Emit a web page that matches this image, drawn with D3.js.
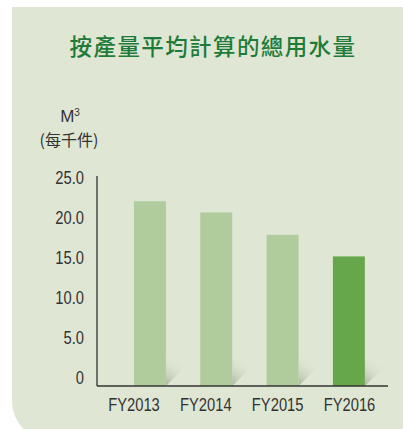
<!DOCTYPE html>
<html>
<head>
<meta charset="utf-8">
<script src="https://cdn.jsdelivr.net/npm/d3@7"></script>
<style>
    html, body { margin: 0; padding: 0; background: #ffffff; }
    svg { display: block; }
</style>
</head>
<body>
<div id="chart"></div>
<script>
(function () {
    "use strict";

    const categories = ["FY2013", "FY2014", "FY2015", "FY2016"];
    const values = [22.1, 20.7, 17.9, 15.2];
    const highlight = ["FY2016"];
    const yTicks = [0, 5, 10, 15, 20, 25];
    const title = "按產量平均計算的總用水量";
    const unitLines = ["M³", "(每千件)"];

    const d3 = window.d3;
    const width = 403;
    const height = 429;

    const sans = "'Liberation Sans', Arial, sans-serif";
    const cjk = "'Noto Sans CJK TC', 'Noto Sans CJK SC', sans-serif";
    const squeeze = 0.82;

    const svg = d3.select("#chart")
        .append("svg")
        .attr("width", width)
        .attr("height", height);

    const defs = svg.append("defs");
    const grad = defs.append("linearGradient")
        .attr("id", "shadow")
        .attr("x1", 0).attr("y1", 1)
        .attr("x2", 0.55).attr("y2", 0.15);
    grad.append("stop").attr("offset", 0).attr("stop-color", "#a3ad9a").attr("stop-opacity", 0.95);
    grad.append("stop").attr("offset", 0.35).attr("stop-color", "#b9c3b0").attr("stop-opacity", 0.6);
    grad.append("stop").attr("offset", 1).attr("stop-color", "#dfe7d4").attr("stop-opacity", 0);

    // panel with rounded bottom-left corner
    const px = 12, py = 7, r = 40;
    svg.append("path")
        .attr("d", `M${px},${py}H${width}V${height + 12}H${px + r}A${r},${r} 0 0 1 ${px},${height + 12 - r}Z`)
        .attr("fill", "#dfe7d4");

    svg.append("text")
        .attr("x", 213)
        .attr("y", 55)
        .attr("text-anchor", "middle")
        .attr("fill", "#1e7b3a")
        .style("font-family", cjk)
        .style("font-size", "22.5px")
        .style("font-weight", "500")
        .style("letter-spacing", "1.4px")
        .text(title);

    svg.append("text")
        .attr("x", 70)
        .attr("y", 122)
        .attr("text-anchor", "middle")
        .attr("fill", "#333333")
        .style("font-family", sans)
        .style("font-size", "17px")
        .call((t) => {
            t.append("tspan").text(unitLines[0].slice(0, 1));
            t.append("tspan")
                .attr("dy", -6)
                .style("font-size", "10px")
                .text("3");
        });

    svg.append("text")
        .attr("x", 69)
        .attr("y", 146)
        .attr("text-anchor", "middle")
        .attr("fill", "#333333")
        .style("font-family", cjk)
        .style("font-size", "16px")
        .text(unitLines[1]);

    const baseline = 386;
    const axisLeft = 97;
    const axisRight = 388;

    const y = d3.scaleLinear().domain([0, 25]).range([378, 178]);

    const x = d3.scaleBand()
        .domain(categories)
        .range([axisLeft, axisRight])
        .paddingInner(0.518)
        .paddingOuter(0.453)
        .align(0.615);

    const labelX = d3.scalePoint()
        .domain(categories)
        .range([134, 349.5]);

    // shadows
    svg.append("g")
        .selectAll("path")
        .data(categories)
        .join("path")
        .attr("d", (c) => {
            const x0 = x(c) + x.bandwidth();
            const s = 28;
            return `M${x0},${baseline}L${x0 + s},${baseline - s}L${x0},${baseline - s}Z`;
        })
        .attr("fill", "url(#shadow)");

    svg.append("g")
        .selectAll("rect")
        .data(categories)
        .join("rect")
        .attr("x", (c) => x(c))
        .attr("y", (c, i) => y(values[i]))
        .attr("width", x.bandwidth())
        .attr("height", (c, i) => baseline - y(values[i]))
        .attr("fill", (c) => highlight.includes(c) ? "#67a74b" : "#b1cc9c");

    svg.append("g")
        .selectAll("text")
        .data(yTicks)
        .join("text")
        .attr("transform", (d) => `translate(84,${y(d)}) scale(${squeeze},1)`)
        .attr("dy", "0.36em")
        .attr("text-anchor", "end")
        .attr("fill", "#333333")
        .style("font-family", sans)
        .style("font-size", "18px")
        .text((d) => d === 0 ? "0" : d3.format(".1f")(d));

    svg.append("g")
        .selectAll("text")
        .data(categories)
        .join("text")
        .attr("transform", (c) => `translate(${labelX(c)},411) scale(${squeeze},1)`)
        .attr("text-anchor", "middle")
        .attr("fill", "#333333")
        .style("font-family", sans)
        .style("font-size", "18px")
        .text((c) => c);

    svg.append("line")
        .attr("x1", axisLeft).attr("x2", axisLeft)
        .attr("y1", 176).attr("y2", baseline)
        .attr("stroke", "#333333")
        .attr("stroke-width", 1.3);

    svg.append("line")
        .attr("x1", axisLeft).attr("x2", axisRight)
        .attr("y1", baseline).attr("y2", baseline)
        .attr("stroke", "#333333")
        .attr("stroke-width", 1.5);
})();
</script>
</body>
</html>
